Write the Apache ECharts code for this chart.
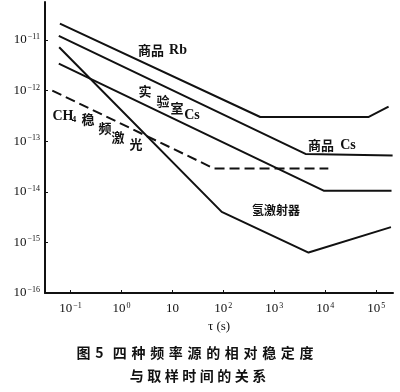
<!DOCTYPE html>
<html>
<head>
<meta charset="utf-8">
<script src="https://cdn.jsdelivr.net/npm/echarts@6/dist/echarts.min.js"></script>
<style>
html,body{margin:0;padding:0;background:#fff;}
#chart{width:400px;height:392px;}
</style>
</head>
<body>
<div id="chart"></div>
<script>
// Sampling time tau (s) and relative stability sigma
const rbTau = [0.062, 530, 7.0e4, 1.75e5];
const rbSigma = [2.1e-11, 3.0e-13, 3.0e-13, 4.8e-13];

const comCsTau = [0.059, 4.1e3, 2.1e5];
const comCsSigma = [1.2e-11, 5.6e-14, 5.2e-14];

const labCsTau = [0.059, 9.3e3, 2.0e5];
const labCsSigma = [3.4e-12, 1.05e-14, 1.05e-14];

const hTau = [0.06, 93, 4.7e3, 1.95e5];
const hSigma = [7.2e-12, 4.0e-15, 6.3e-16, 2.0e-15];

const ch4Tau = [0.044, 65, 1.15e4];
const ch4Sigma = [1.0e-12, 2.9e-14, 2.9e-14];

const xTickExp = [-1, 0, 1, 2, 3, 4, 5];
const yTickExp = [-16, -15, -14, -13, -12, -11];

const xName = 'τ (s)';
const titleLine1 = '图\u20045\u2004\u2004四\u2004种\u2004频\u2004率\u2004源\u2004的\u2004相\u2004对\u2004稳\u2004定\u2004度';
const titleLine2 = '与\u2005取\u2005样\u2005时\u2005间\u2005的\u2005关\u2005系';

function pts(tau, sig) {
  return tau.map((t, i) => [Math.log10(t), Math.log10(sig[i])]);
}
function expLabel(v) {
  const e = Math.round(v);
  if (e === 1) return '{b|10}';
  const s = e < 0 ? '−' + (-e) : String(e);
  return '{b|10}{s|' + s + '}';
}
const rich = {
  b: {fontFamily: 'Liberation Serif', fontSize: 13, color: '#111', lineHeight: 14},
  s: {fontFamily: 'Liberation Serif', fontSize: 8, color: '#111', verticalAlign: 'top', lineHeight: 10, padding: [0, 0, 4, 1]}
};

const chart = echarts.init(document.getElementById('chart'), null, {renderer: 'canvas'});
const lineStyle = {color: '#111', width: 2};
function ser(name, tau, sig, dash) {
  return {
    name: name, type: 'line', data: pts(tau, sig), symbol: 'none', silent: true,
    lineStyle: Object.assign({}, lineStyle, dash ? {type: [10, 5]} : {}),
    animation: false
  };
}
const cjk = 'bold 13px "Noto Sans CJK SC"';
const ser13 = 'bold 14px "Liberation Serif"';
function txt(x, y, text, font) {
  return {type: 'text', x: x, y: y, silent: true,
    style: {text: text, font: font, fill: '#111', textAlign: 'center', textVerticalAlign: 'middle'}};
}
const option = {
  backgroundColor: '#fff',
  animation: false,
  grid: {left: 45, top: 2, width: 348, height: 291},
  xAxis: {
    type: 'value', min: -1.5, max: 5.33,
    name: xName, nameLocation: 'middle', nameGap: 25,
    nameTextStyle: {fontFamily: 'Liberation Serif', fontSize: 13, color: '#111'},
    axisLine: {show: true, onZero: false, lineStyle: {color: '#111', width: 2}},
    axisTick: {show: true, inside: true, length: 3, customValues: xTickExp, lineStyle: {color: '#111', width: 1}},
    axisLabel: {customValues: xTickExp, formatter: expLabel, rich: rich, margin: 9},
    splitLine: {show: false}
  },
  yAxis: {
    type: 'value', min: -16, max: -10.25,
    axisLine: {show: true, onZero: false, lineStyle: {color: '#111', width: 2}},
    axisTick: {show: true, inside: true, length: 3, customValues: yTickExp, lineStyle: {color: '#111', width: 1}},
    axisLabel: {customValues: yTickExp, formatter: expLabel, rich: rich, margin: 5},
    splitLine: {show: false}
  },
  series: [
    ser('商品Rb', rbTau, rbSigma),
    ser('商品Cs', comCsTau, comCsSigma),
    ser('实验室Cs', labCsTau, labCsSigma),
    ser('氢激射器', hTau, hSigma),
    ser('CH4稳频激光', ch4Tau, ch4Sigma, true)
  ],
  graphic: [
    txt(151, 50, '商品', cjk), txt(178, 50, 'Rb', ser13),
    txt(145, 91, '实', cjk), txt(163, 101, '验', cjk), txt(177, 108, '室', cjk), txt(192, 115, 'Cs', ser13),
    txt(63, 116, 'CH', ser13), txt(74, 120, '4', 'bold 9px "Liberation Serif"'),
    txt(88, 119, '稳', cjk), txt(105, 128, '频', cjk), txt(118, 137, '激', cjk), txt(136, 144, '光', cjk),
    txt(321, 145, '商品', cjk), txt(348, 145, 'Cs', ser13),
    txt(276, 210, '氢激射器', 'bold 12px "Noto Sans CJK SC"'),
    txt(195, 353, titleLine1, 'bold 14px "Noto Sans CJK SC"'),
    txt(198, 376, titleLine2, 'bold 14px "Noto Sans CJK SC"')
  ]
};
chart.setOption(option);
</script>
</body>
</html>
